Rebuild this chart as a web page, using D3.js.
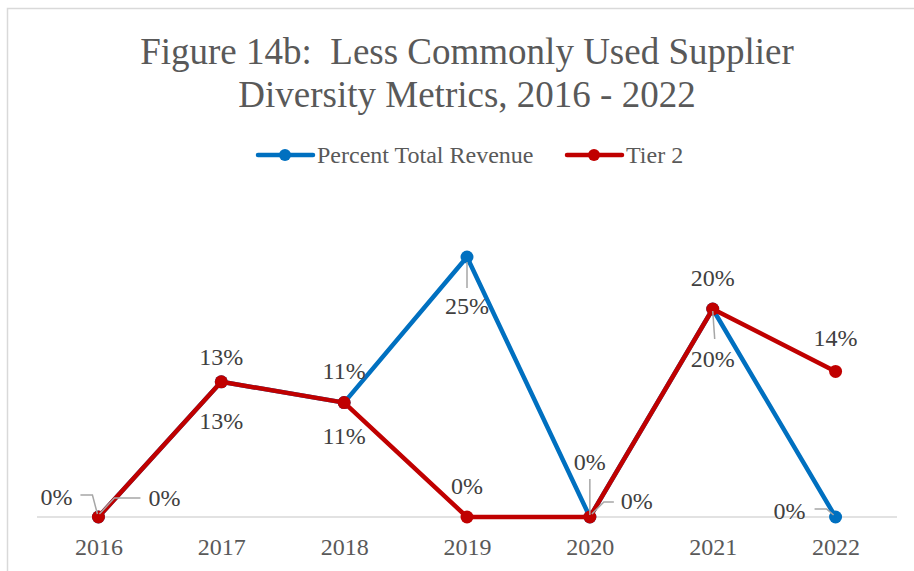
<!DOCTYPE html>
<html>
<head>
<meta charset="utf-8">
<script src="https://cdn.jsdelivr.net/npm/d3@7"></script>
<style>
  html, body { margin: 0; padding: 0; background: #fff; }
  svg { display: block; font-family: "Liberation Serif", "Times New Roman", serif; }
</style>
</head>
<body>
<svg id="chart" width="914" height="571"></svg>
<script>
// Chart data
const years = ["2016", "2017", "2018", "2019", "2020", "2021", "2022"];
const percentTotalRevenue = [0, 13, 11, 25, 0, 20, 0];
const tier2 = [0, 13, 11, 0, 0, 20, 14];
const seriesNames = ["Percent Total Revenue", "Tier 2"];
const titleLines = ["Figure 14b:  Less Commonly Used Supplier", "Diversity Metrics, 2016 - 2022"];

const colors = { "Percent Total Revenue": "#0070C0", "Tier 2": "#C00000" };

// Label placement relative to each point (text centre, optional leader line)
const labelPlacement = {
  "Percent Total Revenue": [
    { dx: -42, dy: -20, leader: [[-18, -22], [-6, -22], [-1, -3]] },
    { dx: 0, dy: 39 },
    { dx: 0, dy: -32 },
    { dx: 0, dy: 49, leader: [[0, 5], [0, 31]] },
    { dx: 0, dy: -55, leader: [[0, -38], [0, -2]] },
    { dx: 0, dy: 50, leader: [[0, 2], [2, 30]] },
    { dx: -46, dy: -6, leader: [[-21, -8], [-9, -8], [-2, -2]] }
  ],
  "Tier 2": [
    { dx: 66, dy: -19, leader: [[1, -3], [16, -19], [42, -19]] },
    { dx: 0, dy: -25 },
    { dx: 0, dy: 33 },
    { dx: 0, dy: -31 },
    { dx: 47, dy: -16, leader: [[2, -3], [14, -15], [24, -15]] },
    { dx: 0, dy: -31 },
    { dx: 0, dy: -34 }
  ]
};

const svg = d3.select("#chart");

// Chart frame (extends past the right and bottom edges)
svg.append("rect")
  .attr("x", 7.5).attr("y", 8.5)
  .attr("width", 1000).attr("height", 700)
  .attr("fill", "#fff")
  .attr("stroke", "#d9d9d9").attr("stroke-width", 1.5);

// Title
svg.append("text")
  .attr("x", 467).attr("text-anchor", "middle")
  .attr("fill", "#595959").attr("font-size", 37)
  .style("white-space", "pre")
  .selectAll("tspan").data(titleLines).join("tspan")
  .attr("x", 467)
  .attr("y", (d, i) => 64 + i * 43)
  .text(d => d);

// Scales
const x = d3.scalePoint().domain(years).range([37, 897]).padding(0.5);
const y = d3.scaleLinear().domain([0, 30]).range([517, 205]);

// Category axis
const xAxis = svg.append("g")
  .attr("transform", `translate(0,${y(0)})`)
  .call(d3.axisBottom(x).tickSize(0).tickPadding(30));
xAxis.select(".domain").attr("d", "M37,0H897").attr("stroke", "#d9d9d9").attr("stroke-width", 1.5);
xAxis.selectAll("text")
  .attr("font-family", "Liberation Serif, Times New Roman, serif")
  .attr("font-size", 24).attr("fill", "#595959").attr("dy", "0.35em").attr("y", 30);

// Legend
const legendItems = [
  { name: seriesNames[0], x0: 258 },
  { name: seriesNames[1], x0: 567 }
];
const legend = svg.append("g");
legendItems.forEach(item => {
  const g = legend.append("g");
  g.append("line")
    .attr("x1", item.x0).attr("x2", item.x0 + 55)
    .attr("y1", 155).attr("y2", 155)
    .attr("stroke", colors[item.name]).attr("stroke-width", 4.5).attr("stroke-linecap", "round");
  g.append("circle")
    .attr("cx", item.x0 + 27).attr("cy", 155).attr("r", 6)
    .attr("fill", colors[item.name]);
  g.append("text")
    .attr("x", item.x0 + 59).attr("y", 155).attr("dy", "0.35em")
    .attr("font-size", 24).attr("fill", "#595959")
    .text(item.name);
});

// Lines and markers
const series = [
  { name: seriesNames[0], values: percentTotalRevenue },
  { name: seriesNames[1], values: tier2 }
];
const line = d3.line().x((d, i) => x(years[i])).y(d => y(d));

series.forEach(s => {
  const g = svg.append("g");
  g.append("path")
    .datum(s.values)
    .attr("d", line)
    .attr("fill", "none")
    .attr("stroke", colors[s.name]).attr("stroke-width", 4.5)
    .attr("stroke-linejoin", "round");
  g.selectAll("circle").data(s.values).join("circle")
    .attr("cx", (d, i) => x(years[i]))
    .attr("cy", d => y(d))
    .attr("r", 6.5)
    .attr("fill", colors[s.name]);
});

// Data labels with leader lines
series.forEach(s => {
  const g = svg.append("g");
  s.values.forEach((v, i) => {
    const px = x(years[i]), py = y(v);
    const p = labelPlacement[s.name][i];
    if (p.leader) {
      g.append("polyline")
        .attr("points", p.leader.map(([a, b]) => `${px + a},${py + b}`).join(" "))
        .attr("fill", "none").attr("stroke", "#A6A6A6").attr("stroke-width", 1.5);
    }
    g.append("text")
      .attr("x", px + p.dx).attr("y", py + p.dy).attr("dy", "0.35em")
      .attr("text-anchor", "middle")
      .attr("font-size", 24).attr("fill", "#404040")
      .text(`${v}%`);
  });
});
</script>
</body>
</html>
